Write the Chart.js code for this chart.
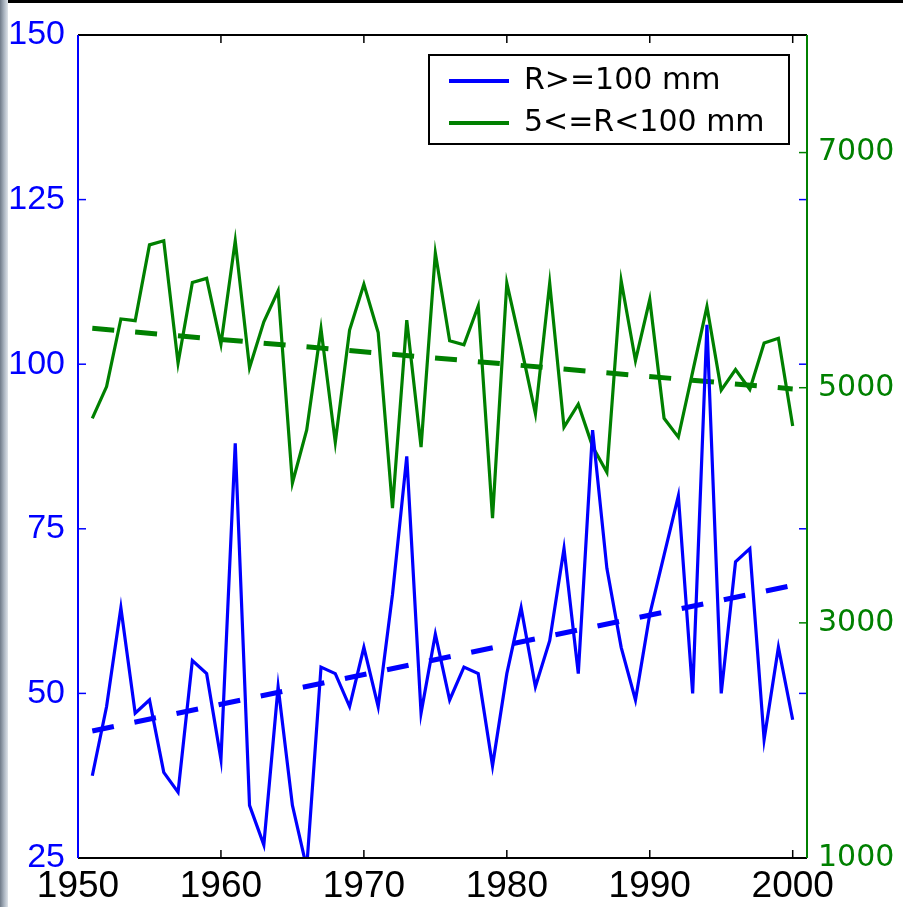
<!DOCTYPE html>
<html>
<head>
<meta charset="utf-8">
<script src="https://cdn.jsdelivr.net/npm/chart.js@4.4.1/dist/chart.umd.min.js"></script>
<style>
html,body{margin:0;padding:0;background:#fff;overflow:hidden}
#wrap{position:relative;width:903px;height:907px;background:#fff}
#c{position:absolute;left:0;top:0}
#edgeL{position:absolute;left:0;top:0;width:8px;height:907px;background:linear-gradient(to right,#6f7a88,#a9b3bf 50%,#dfe4ea)}
#edgeT{position:absolute;left:0;top:0;width:903px;height:3px;background:#000}
</style>
</head>
<body>
<div id="wrap">
<canvas id="c" width="903" height="907"></canvas>
<div id="edgeT"></div>
<div id="edgeL"></div>
</div>
<script>
// ---- data ----
const years = [1951,1952,1953,1954,1955,1956,1957,1958,1959,1960,
               1961,1962,1963,1964,1965,1966,1967,1968,1969,1970,
               1971,1972,1973,1974,1975,1976,1977,1978,1979,1980,
               1981,1982,1983,1984,1985,1986,1987,1988,1989,1990,
               1991,1992,1993,1994,1995,1996,1997,1998,1999,2000];
const heavyRain = [37.5,48,63,47,49,38,35,55,53,40,
                   88,33,27,51,33,23.5,54,53,48,57,
                   48,65,86,47,59,49,54,53,39,53,
                   63,51,58,72,53,90,69,57,49,62,
                   71,80,50,106,50,70,72,43,57,46];
const moderateRain = [4740,5010,5585,5570,6215,6250,5210,5895,5930,5370,
                      6250,5170,5560,5825,4190,4640,5500,4535,5490,5880,
                      5470,3975,5575,4495,6145,5400,5365,5695,3890,5890,
                      5350,4780,5890,4665,4860,4500,4280,5910,5230,5750,
                      4740,4580,5135,5690,4980,5155,4985,5380,5420,4675];
const trendYears = [1951, 2000];
const heavyTrend = [44.3, 66.4];
const moderateTrend = [5505, 4990];
const seriesLabels = ['R>=100 mm', '5<=R<100 mm'];
const xTicks = [1950,1960,1970,1980,1990,2000];
const leftTicks = [25,50,75,100,125,150];
const rightTicks = [1000,3000,5000,7000];

const BLUE = '#0000ff';
const GREEN = '#008000';

const pts = (xs, ys) => xs.map((x, i) => ({x: x, y: ys[i]}));

// place the legend box inside the plot area, top-right, with a frame
const legendPlacer = {
  id: 'legendPlacer',
  afterLayout(chart) {
    const lg = chart.legend, a = chart.chartArea;
    const boxRight = a.right - 18, boxLeft = boxRight - 360, boxTop = a.top + 20;
    lg.left = boxLeft + 8;
    lg.top = boxTop - 1;
    lg.right = boxRight;
    lg.bottom = a.bottom;
    lg.width = lg.right - lg.left;
    lg.height = lg.bottom - lg.top;
    lg.adjustHitBoxes();
  },
  afterDraw(chart) {
    const a = chart.chartArea, ctx = chart.ctx;
    const boxRight = a.right - 18, boxLeft = boxRight - 360, boxTop = a.top + 20;
    ctx.save();
    ctx.strokeStyle = '#000';
    ctx.lineWidth = 2;
    ctx.strokeRect(boxLeft, boxTop, 360, 89);
    ctx.restore();
  }
};

// MATLAB-like frame with inward tick marks
const frame = {
  id: 'frame',
  afterDatasetsDraw(chart) {
    const {ctx, chartArea: a, scales} = chart;
    const T = 8;
    const seg = (x1, y1, x2, y2) => { ctx.beginPath(); ctx.moveTo(x1, y1); ctx.lineTo(x2, y2); ctx.stroke(); };
    ctx.save();
    ctx.lineWidth = 1.5;
    ctx.strokeStyle = '#000';
    scales.x.ticks.forEach(t => {
      const p = scales.x.getPixelForValue(t.value);
      seg(p, a.bottom, p, a.bottom - T);
      seg(p, a.top, p, a.top + T);
    });
    ctx.strokeStyle = BLUE;
    scales.y.ticks.forEach(t => {
      const p = scales.y.getPixelForValue(t.value);
      seg(a.left, p, a.left + T, p);
      seg(a.right, p, a.right - T, p);
    });
    ctx.strokeStyle = GREEN;
    scales.y2.ticks.forEach(t => {
      const p = scales.y2.getPixelForValue(t.value);
      seg(a.right, p, a.right - T, p);
    });
    ctx.lineWidth = 2;
    ctx.strokeStyle = '#000';
    seg(a.left, a.bottom, a.right, a.bottom);
    seg(a.left, a.top, a.right, a.top);
    ctx.strokeStyle = BLUE;
    seg(a.left, a.top, a.left, a.bottom);
    ctx.strokeStyle = GREEN;
    seg(a.right, a.top, a.right, a.bottom);
    ctx.restore();
  }
};

new Chart(document.getElementById('c'), {
  type: 'line',
  data: {
    datasets: [
      {label: seriesLabels[0], data: pts(years, heavyRain), yAxisID: 'y', borderColor: BLUE, backgroundColor: BLUE,
       borderWidth: 3.2, pointRadius: 0, pointBorderWidth: 4, tension: 0, fill: false},
      {label: seriesLabels[1], data: pts(years, moderateRain), yAxisID: 'y2', borderColor: GREEN, backgroundColor: GREEN,
       borderWidth: 3.2, pointRadius: 0, pointBorderWidth: 4, tension: 0, fill: false},
      {label: 'trend1', data: pts(trendYears, heavyTrend), yAxisID: 'y', borderColor: BLUE,
       borderWidth: 5, borderDash: [22, 21], pointRadius: 0, tension: 0, fill: false},
      {label: 'trend2', data: pts(trendYears, moderateTrend), yAxisID: 'y2', borderColor: GREEN,
       borderWidth: 5, borderDash: [22, 21], pointRadius: 0, tension: 0, fill: false}
    ]
  },
  options: {
    responsive: false,
    animation: false,
    devicePixelRatio: 1,
    layout: {padding: {top: 35, left: 0, right: 0, bottom: 0}},
    plugins: {
      legend: {
        position: 'chartArea',
        align: 'start',
        labels: {
          usePointStyle: true,
          pointStyle: 'line',
          pointStyleWidth: 60,
          padding: 12,
          color: '#000',
          font: {family: 'DejaVu Sans', size: 30},
          filter: (item) => item.datasetIndex < 2
        }
      },
      tooltip: {enabled: false}
    },
    scales: {
      x: {
        type: 'linear', position: 'bottom', min: 1950, max: 2001,
        afterBuildTicks: (s) => { s.ticks = xTicks.map(v => ({value: v})); },
        afterFit: (s) => { s.height = 49; },
        grid: {display: false, drawTicks: false},
        border: {display: false},
        ticks: {color: '#000', padding: 7, maxRotation: 0, autoSkip: false,
                font: {family: 'Liberation Sans', size: 37},
                callback: (v) => String(v)}
      },
      y: {
        type: 'linear', position: 'left', min: 25, max: 150,
        afterBuildTicks: (s) => { s.ticks = leftTicks.map(v => ({value: v})); },
        afterFit: (s) => { s.width = 78; },
        grid: {display: false, drawTicks: false},
        border: {display: false},
        ticks: {color: BLUE, padding: 13, autoSkip: false,
                font: {family: 'Liberation Sans', size: 34},
                callback: (v) => String(v)}
      },
      y2: {
        type: 'linear', position: 'right', min: 1000, max: 8000,
        afterBuildTicks: (s) => { s.ticks = rightTicks.map(v => ({value: v})); },
        afterFit: (s) => { s.width = 96; },
        grid: {display: false, drawTicks: false},
        border: {display: false},
        ticks: {color: GREEN, padding: 11, autoSkip: false,
                font: {family: 'DejaVu Sans', size: 30},
                callback: (v) => String(v)}
      }
    }
  },
  plugins: [legendPlacer, frame]
});
</script>
</body>
</html>
